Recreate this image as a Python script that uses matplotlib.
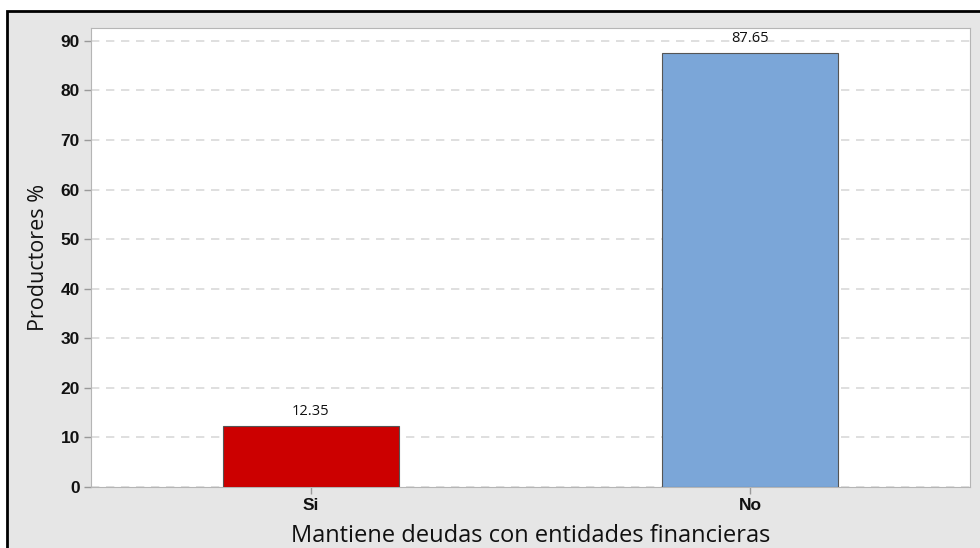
import matplotlib.pyplot as plt
from matplotlib.patches import Rectangle

categories = ["Si", "No"]
values = [12.35, 87.65]
colors = ["#cc0000", "#7ba6d8"]
yticks = [0, 10, 20, 30, 40, 50, 60, 70, 80, 90]

plt.rcParams['font.family'] = ['Open Sans', 'DejaVu Sans']
TICK_FONT = ['Liberation Sans', 'DejaVu Sans']

W, H = 980, 548
fig = plt.figure(figsize=(W / 100, H / 100), dpi=100)
fig.patch.set_facecolor("white")

# gray frame with black border (cut off at right/bottom)
fig.patches.append(Rectangle((7 / W, -0.05), 1.05, (H - 11) / H + 0.05,
                             transform=fig.transFigure, facecolor="#e6e6e6",
                             edgecolor="black", linewidth=2, zorder=-10))

ax = fig.add_axes([91 / W, (H - 487) / H, (970 - 91) / W, (487 - 28) / H])
ax.set_facecolor("white")

x = range(len(categories))
bars = ax.bar(x, values, width=0.4, color=colors, edgecolor="#555555",
              linewidth=0.8, zorder=3)
for xi, v in zip(x, values):
    ax.text(xi, v + 1.4, f"{v:.2f}", ha="center", va="bottom", fontsize=10.5,
            color="#111111", zorder=4)

ax.set_xlim(-0.5, 1.5)
ax.set_ylim(0, 92.6)
ax.set_xticks(list(x))
ax.set_xticklabels(categories, fontsize=12.5, fontweight="bold", color="#111111",
                   family=TICK_FONT)
ax.set_yticks(yticks)
ax.set_yticklabels([str(t) for t in yticks], fontsize=12.5, fontweight="bold",
                   color="#111111", family=TICK_FONT)
ax.yaxis.grid(True, linestyle=(0, (5, 4)), color="#d9d9d9", linewidth=1.2, zorder=0)
ax.set_axisbelow(True)
for s in ax.spines.values():
    s.set_color("#b5b5b5")
ax.tick_params(axis="both", color="#999999", length=5, width=1, pad=3)

ax.set_ylabel("Productores %", fontsize=15.5, labelpad=8, color="#111111")
ax.set_xlabel("Mantiene deudas con entidades financieras", fontsize=17,
              labelpad=8, color="#111111")

fig.savefig("out.png", dpi=100)
